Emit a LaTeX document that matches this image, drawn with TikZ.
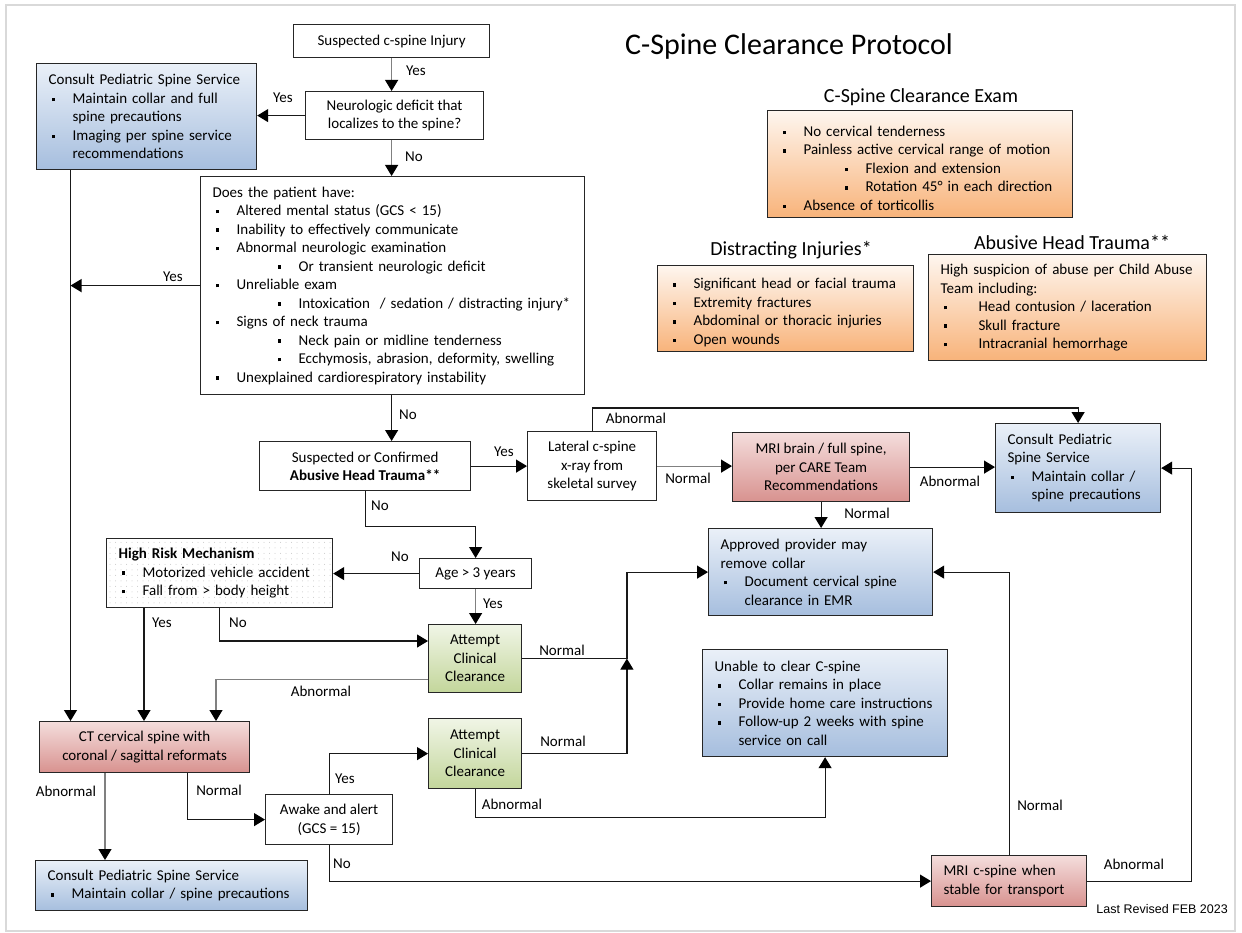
\documentclass[tikz,border=0pt]{standalone}
\usepackage{fontspec}
\setmainfont{Carlito}
\newfontfamily\revfont{Liberation Sans}
\usetikzlibrary{arrows.meta,patterns.meta}

\definecolor{blueTop}{HTML}{EAF0F8}
\definecolor{blueBot}{HTML}{A6BEDE}
\definecolor{redTop}{HTML}{F4DDDC}
\definecolor{redBot}{HTML}{D8928F}
\definecolor{orgTop}{HTML}{FEF6EF}
\definecolor{orgBot}{HTML}{F8B37A}
\definecolor{grnTop}{HTML}{F0F5E6}
\definecolor{grnBot}{HTML}{C3D69B}
\definecolor{lineGray}{HTML}{808080}
\definecolor{frameGray}{HTML}{D9D9D9}

% list helpers: small square bullets with fixed indents
\newcommand\bul{\rule[2.2pt]{3.4pt}{3.4pt}}
\newcommand\ia{\par\noindent\makebox[24pt][l]{\hspace{3pt}\bul}}
\newcommand\ib{\par\noindent\makebox[86pt][l]{\hspace{65pt}\bul}}
\newcommand\ic{\par\noindent\makebox[38pt][l]{\hspace{3pt}\bul}}
\newcommand\cont{\par\noindent\hspace*{24pt}}

\begin{document}
\begin{tikzpicture}[x=1pt,y=-1pt,
  txt/.style={font=\fontsize{15}{18.5}\selectfont},
  box/.style={txt, draw=black!85, line width=1.2pt, anchor=north west,
    inner xsep=12pt, inner ysep=2pt,
    execute at begin node={\setlength{\parindent}{0pt}}},
  cbox/.style={box, align=center},
  lbox/.style={box, align=left},
  bluebox/.style={top color=blueTop, bottom color=blueBot},
  redbox/.style={top color=redTop, bottom color=redBot},
  orgbox/.style={top color=orgTop, bottom color=orgBot},
  grnbox/.style={top color=grnTop, bottom color=grnBot},
  dotbox/.style={fill=white, postaction={pattern={Dots[distance=5.5pt,radius=0.5pt]}, pattern color=black!22}},
  lbl/.style={txt, inner sep=0pt},
  tip/.style={-{Triangle[length=11pt,width=13pt,color=black]}},
  line/.style={line width=1.2pt, draw=black!90},
  arr/.style={line, tip},
  garr/.style={line width=1.2pt, draw=lineGray, tip},
  title/.style={font=\fontsize{30}{36}\selectfont, inner sep=0pt},
  sub/.style={font=\fontsize{20}{24}\selectfont, inner sep=0pt}
]
\useasboundingbox (0,0) rectangle (1242,933);
\fill[white] (0,0) rectangle (1242,933);
\draw[frameGray, line width=1.5pt] (6,5) rectangle (1235,931);

% headings
\node[title] (ttl) at (789,47) {C-Spine Clearance Protocol};
\node[sub] (texam) at (921,97) {C-Spine Clearance Exam};
\node[sub] (tdist) at (791,250) {Distracting Injuries*};
\node[sub] (tahti) at (1072,242) {Abusive Head Trauma**};

% reference panels
\node[lbox, orgbox, text width=281pt, minimum height=107pt] (exam) at (767,110)
  {\ia No cervical tenderness\ia Painless active cervical range of motion\ib Flexion and extension\ib Rotation 45° in each direction\ia Absence of torticollis};
\node[lbox, orgbox, text width=232pt, minimum height=86pt] (dist) at (657,265)
  {\ia Significant head or facial trauma\ia Extremity fractures\ia Abdominal or thoracic injuries\ia Open wounds};
\node[lbox, orgbox, text width=254pt, minimum height=106pt] (ahti) at (928,254)
  {High suspicion of abuse per Child Abuse\\Team including:\ic Head contusion / laceration\ic Skull fracture\ic Intracranial hemorrhage};

% flow boxes
\node[cbox, minimum width=196pt, minimum height=33pt] (susp) at (293,24) {Suspected c-spine Injury};
\node[cbox, minimum width=178pt, minimum height=48pt] (neuro) at (305,91) {Neurologic deficit that\\localizes to the spine?};
\node[lbox, bluebox, text width=196pt, minimum height=106pt] (c1) at (36,63)
  {Consult Pediatric Spine Service\ia Maintain collar and full\cont spine precautions\ia Imaging per spine service\cont recommendations};
\node[lbox, text width=360pt, minimum height=218pt] (does) at (200,176)
  {Does the patient have:\ia Altered mental status (GCS < 15)\ia Inability to effectively communicate\ia Abnormal neurologic examination\ib Or transient neurologic deficit\ia Unreliable exam\ib Intoxication~~/ sedation / distracting injury*\ia Signs of neck trauma\ib Neck pain or midline tenderness\ib Ecchymosis, abrasion, deformity, swelling\ia Unexplained cardiorespiratory instability};
\node[cbox, minimum width=211pt, minimum height=49pt] (aht) at (259,441) {Suspected or Confirmed\\\textbf{Abusive Head Trauma**}};
\node[cbox, minimum width=129pt, minimum height=69pt] (lat) at (527,431) {Lateral c-spine\\x-ray from\\skeletal survey};
\node[cbox, redbox, minimum width=177pt, minimum height=69pt] (mrib) at (732,432) {MRI brain / full spine,\\per CARE Team\\Recommendations};
\node[lbox, bluebox, text width=141pt, minimum height=89pt] (c2) at (995,423)
  {Consult Pediatric\\Spine Service\ia Maintain collar /\cont spine precautions};
\node[lbox, bluebox, text width=200pt, minimum height=87pt] (appr) at (708,528)
  {Approved provider may\\remove collar\ia Document cervical spine\cont clearance in EMR};
\node[lbox, dotbox, text width=202pt, minimum height=69pt] (hrm) at (106,538)
  {\textbf{High Risk Mechanism}\ia Motorized vehicle accident\ia Fall from > body height};
\node[cbox, minimum width=112pt, minimum height=30pt] (age) at (419,558) {Age > 3 years};
\node[cbox, grnbox, minimum width=93pt, minimum height=68pt] (acc1) at (428,624) {Attempt\\Clinical\\Clearance};
\node[lbox, bluebox, text width=221pt, minimum height=107pt] (unable) at (702,649)
  {Unable to clear C-spine\ia Collar remains in place\ia Provide home care instructions\ia Follow-up 2 weeks with spine\cont service on call};
\node[cbox, redbox, minimum width=210pt, minimum height=51pt] (ct) at (39,721) {CT cervical spine with\\coronal / sagittal reformats};
\node[cbox, grnbox, minimum width=93pt, minimum height=70pt] (acc2) at (428,718) {Attempt\\Clinical\\Clearance};
\node[cbox, minimum width=127pt, minimum height=50pt] (awake) at (265,794) {Awake and alert\\(GCS = 15)};
\node[lbox, bluebox, text width=248pt, minimum height=50pt] (c3) at (35,860)
  {Consult Pediatric Spine Service\ia Maintain collar / spine precautions};
\node[lbox, redbox, text width=131pt, minimum height=51pt] (mric) at (931,855) {MRI c-spine when\\stable for transport};

\node[font=\revfont\fontsize{12.5}{15}\selectfont, inner sep=0pt, anchor=east] (rev) at (1228,909) {Last Revised FEB 2023};

% connectors
\coordinate (cl) at ([xshift=34.5pt]c1.south west);
\draw[arr] (cl) -- (cl |- ct.north);
\draw[arr] (does.west) -- (does.west -| cl);
\draw[garr] (susp.south) -- (susp.south |- neuro.north);
\draw[arr] (neuro.west) -- (neuro.west -| c1.east);
\draw[garr] (susp.south |- neuro.south) -- (susp.south |- does.north);
\draw[arr] (susp.south |- does.south) -- (susp.south |- aht.north);
\draw[arr] (aht.east) -- (aht.east -| lat.west);
\draw[arr] (lat.north) -- ++(0,-23) -| (c2.north);
\draw[garr] (lat.east) -- (lat.east -| mrib.west);
\draw[arr] (mrib.east) -- (mrib.east -| c2.west);
\draw[arr] (mrib.south) -- (mrib.south |- appr.north);
\draw[arr] (aht.south) -- ++(0,35) -| (age.north);
\draw[arr] (age.west) -- (age.west -| hrm.east);
\draw[garr] (age.south) -- (age.south |- acc1.north);
\coordinate (hy) at ([xshift=38pt]hrm.south west);
\draw[arr] (hy) -- (hy |- ct.north);
\draw[arr] (hrm.south) |- ([yshift=-17pt]acc1.north west);
\coordinate (ab) at ([xshift=177pt]ct.north west);
\draw[garr] ([yshift=-55.5pt]acc1.north west) -| (ab);
\coordinate (jn) at ([xshift=104.7pt]acc1.east);
\draw[line] (acc1.east) -- (jn);
\draw[arr] (acc2.east) -| (jn);
\draw[arr] (jn) |- (appr.west);
\coordinate (ca) at ([xshift=66pt]ct.south west);
\draw[garr] (ca) -- (ca |- c3.north);
\coordinate (cn) at ([xshift=148.5pt]ct.south west);
\draw[arr] (cn) |- (awake.west);
\draw[arr] (awake.north) |- (acc2.west);
\draw[arr] (awake.south) |- (mric.west);
\draw[arr] (acc2.south) -- ++(0,28) -| (unable.south);
\draw[arr] (mric.north) |- (appr.east);
\draw[arr] (mric.east) -- ++(104,0) |- (c2.east);

% connector labels
\node[lbl] (y1) at (416,71) {Yes};
\node[lbl] (y2) at (283,98) {Yes};
\node[lbl] (n1) at (414,157) {No};
\node[lbl] (y3) at (173,277) {Yes};
\node[lbl] (n2) at (408,415) {No};
\node[lbl] (y4) at (504,452) {Yes};
\node[lbl] (ab1) at (636,418) {Abnormal};
\node[lbl] (nm1) at (688,478) {Normal};
\node[lbl] (ab2) at (950,481) {Abnormal};
\node[lbl] (nm2) at (867,513) {Normal};
\node[lbl] (n3) at (380,506) {No};
\node[lbl] (n4) at (400,557) {No};
\node[lbl] (y5) at (493,604) {Yes};
\node[lbl] (y6) at (162,623) {Yes};
\node[lbl] (n5) at (238,623) {No};
\node[lbl] (ab3) at (321,691) {Abnormal};
\node[lbl] (nm3) at (562,650) {Normal};
\node[lbl] (nm4) at (563,741) {Normal};
\node[lbl] (ab4) at (66,791) {Abnormal};
\node[lbl] (nm5) at (219,790) {Normal};
\node[lbl] (y7) at (345,779) {Yes};
\node[lbl] (n6) at (342,864) {No};
\node[lbl] (ab5) at (512,804) {Abnormal};
\node[lbl] (nm6) at (1040,805) {Normal};
\node[lbl] (ab6) at (1134,864) {Abnormal};
\end{tikzpicture}
\end{document}
